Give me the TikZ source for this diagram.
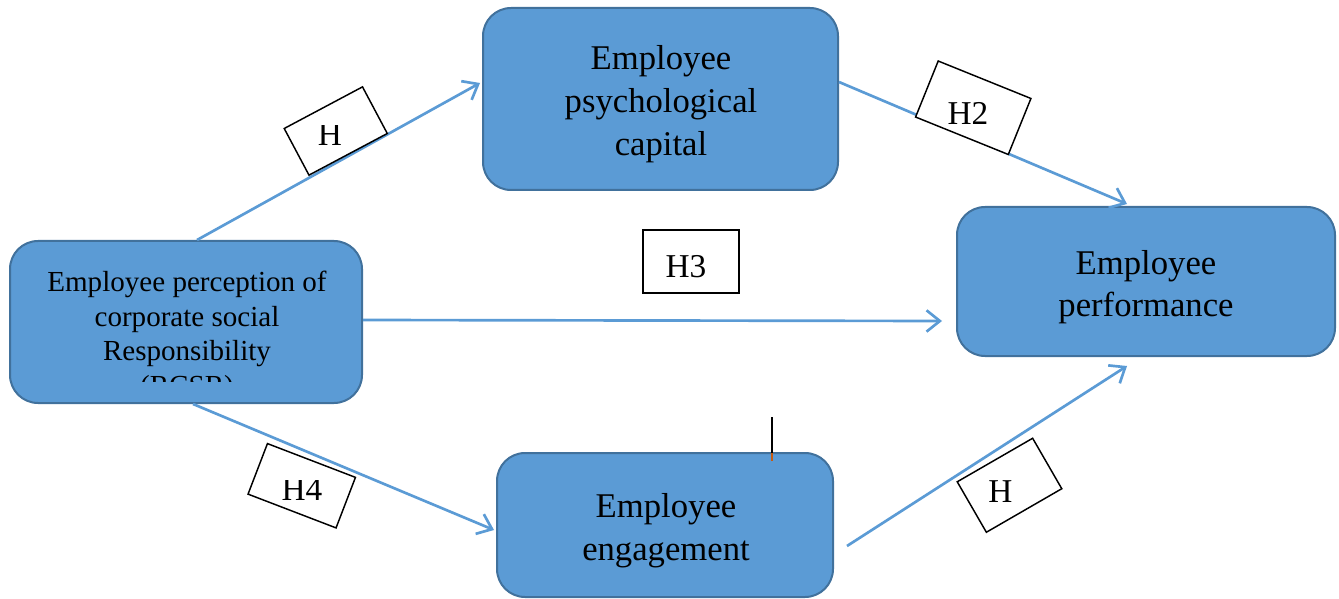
\documentclass[tikz,border=0pt]{standalone}
\usepackage{fontspec}
\setmainfont{Liberation Serif}
\usetikzlibrary{arrows.meta,calc}

\definecolor{boxfill}{HTML}{5B9BD5}
\definecolor{boxline}{HTML}{41719C}
\definecolor{arrowblue}{HTML}{5B9BD5}
\definecolor{strayorange}{HTML}{C55A11}

\tikzset{
  varbox/.style={draw=boxline, fill=boxfill, line width=1.5pt,
    rounded corners=21pt, inner sep=0pt},
  vartext/.style={align=center, inner sep=0pt,
    font=\fontsize{26}{32}\selectfont},
  link/.style={draw=arrowblue, line width=2pt,
    -{Straight Barb[length=10pt,width=16pt,line width=2pt]}},
  hypbox/.style={draw=black, line width=1.1pt, fill=white, inner sep=0pt},
  hyptext/.style={font=\fontsize{25}{30}\selectfont, anchor=base, inner sep=0pt},
}

\begin{document}
\begin{tikzpicture}[x=0.75pt, y=-0.75pt]
\useasboundingbox (0,0) rectangle (1339,599);

% constructs
\node[varbox, minimum width=264pt, minimum height=121.5pt] (csr) at (186,322) {};
\node[varbox, minimum width=266.25pt, minimum height=136.5pt] (psych) at (660.5,99) {};
\node[varbox, minimum width=283.5pt, minimum height=111.75pt] (perf) at (1146,281.5) {};
\node[varbox, minimum width=252pt, minimum height=108pt] (eng) at (665,525) {};

\node[vartext] (psychtext) at (661,104) {Employee\\psychological\\capital};
\node[vartext] (perftext) at (1146,287) {Employee\\performance};
\node[vartext] (engtext) at (666,531) {Employee\\engagement};

% text of the CSR box, cut off by its lower part
\begin{scope}
  \clip (12,243) rectangle (360,381);
  \node[align=center, inner sep=0pt, font=\fontsize{21.8}{26}\selectfont]
    (csrtext) at (187,336.5)
    {Employee perception of\\corporate social\\Responsibility\\(RCSR)};
\end{scope}

% hypothesised paths
\draw[link] ($(csr.north)+(11,0)$) -- ($(psych.west)+(-2,-16)$);
\draw[link] ($(psych.east)+(0,-17)$) -- ($(perf.north)+(-19,-2)$);
\draw[link] ($(csr.east)+(0,-2)$) -- ($(perf.west)+(-14,39.5)$);
\draw[link] ($(csr.south)+(7,0)$) -- ($(eng.west)+(-2,5)$);
\draw[link] ($(eng.east)+(13,21)$) -- ($(perf.south)+(-19,9)$);

% hypothesis labels
\node[hypbox, rotate=28, minimum width=66.5pt, minimum height=39.6pt] (h1box) at (335.75,131) {};
\begin{scope}
  \clip (290,126) rectangle (370,160);
  \node[hyptext] (h1) at (330,146) {H};
\end{scope}

\node[hypbox, rotate=-22, minimum width=75pt, minimum height=45.3pt] (h2box) at (973.25,107.75) {};
\node[hyptext] (h2) at (968,125) {H2};

\node[hypbox, minimum width=72pt, minimum height=47.25pt] (h3box) at (691,261.5) {};
\node[hyptext] (h3) at (686,277) {H3};

\node[hypbox, rotate=-21, minimum width=70.7pt, minimum height=40.6pt] (h4box) at (301.75,485.75) {};
\begin{scope}
  \clip (260,480) rectangle (345,515);
  \node[hyptext] (h4) at (302,500) {H4};
\end{scope}

\node[hypbox, rotate=30, minimum width=65.3pt, minimum height=43.7pt] (h5box) at (1009.5,485.25) {};
\node[hyptext] (h5) at (1000.5,502) {H};

% stray cursor mark above the engagement box
\coordinate (markTop) at (772,417);
\coordinate (markMid) at (772,453);
\coordinate (markBot) at (772,461);
\draw[line width=1.1pt, black] (markTop) -- (markMid);
\draw[line width=1.1pt, strayorange] (markMid) -- (markBot);
\end{tikzpicture}
\end{document}
